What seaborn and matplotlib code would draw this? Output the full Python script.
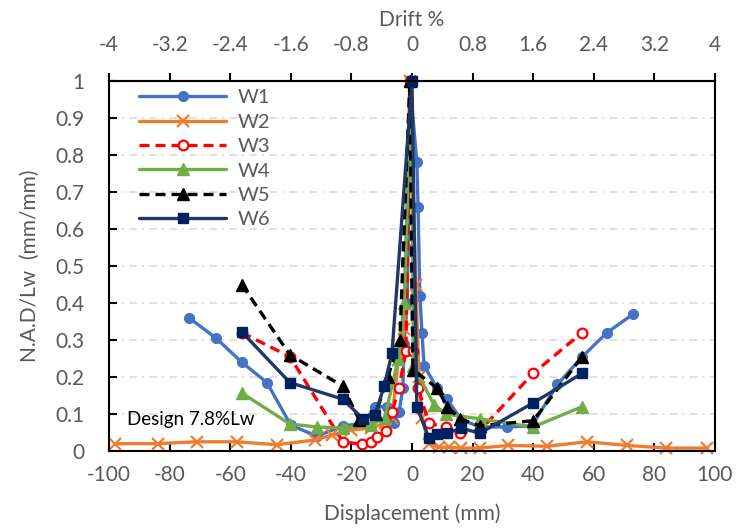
import numpy as np
import pandas as pd
import matplotlib
matplotlib.use("Agg")
import matplotlib.pyplot as plt
from matplotlib.ticker import FuncFormatter
import seaborn as sns

# Normalised average drift (N.A.D/Lw) versus lateral displacement for six walls
w1_disp = [-73.6, -64.7, -56.2, -47.9, -40.0, -31.4, -22.8, -16.2, -12.2, -8.3, -6.0, -4.3, -3.0, -2.6, -1.6, -1.3, -0.7,
           1.6, 2.0, 2.6, 3.3, 4.0, 8.3, 11.6, 16.2, 22.4, 31.4, 39.6, 48.0, 56.2, 64.4, 73.0]
w1_nad = [0.36, 0.305, 0.24, 0.185, 0.07, 0.04, 0.068, 0.075, 0.12, 0.12, 0.075, 0.105, 0.17, 0.29, 0.40, 0.545, 1.0,
          0.78, 0.66, 0.42, 0.32, 0.23, 0.17, 0.14, 0.085, 0.065, 0.065, 0.068, 0.18, 0.255, 0.32, 0.37]

w2_disp = [-98.0, -84.0, -71.0, -57.8, -44.6, -32.0, -26.5, -20.0, -13.5, -9.0, -6.6, -4.5, -2.6, -0.7,
           1.3, 2.3, 3.3, 5.6, 8.9, 12.2, 16.2, 22.4, 31.7, 44.6, 57.8, 71.0, 84.0, 97.4]
w2_nad = [0.02, 0.02, 0.025, 0.025, 0.017, 0.03, 0.043, 0.057, 0.062, 0.075, 0.09, 0.245, 0.33, 1.0,
          0.45, 0.2, 0.09, 0.02, 0.01, 0.01, 0.008, 0.008, 0.015, 0.013, 0.025, 0.015, 0.008, 0.008]

w3_disp = [-56.2, -40.3, -22.8, -16.5, -13.5, -11.5, -8.6, -6.6, -4.3, -2.0, -0.7,
           0.3, 2.0, 5.6, 11.2, 15.8, 22.4, 40.0, 56.2]
w3_nad = [0.32, 0.255, 0.025, 0.018, 0.025, 0.038, 0.055, 0.105, 0.17, 0.27, 1.0,
          0.27, 0.17, 0.075, 0.065, 0.05, 0.055, 0.21, 0.32]

w4_disp = [-56.2, -40.3, -31.4, -22.8, -13.5, -9.0, -4.5, -2.6, -0.3,
           0.5, 7.3, 11.2, 22.4, 40.0, 56.2]
w4_nad = [0.157, 0.073, 0.065, 0.062, 0.07, 0.09, 0.25, 0.4, 1.0,
          0.23, 0.125, 0.1, 0.087, 0.065, 0.12]

w5_disp = [-56.2, -40.3, -22.8, -17.5, -12.0, -8.0, -4.0, -0.7,
           0.3, 8.3, 11.6, 15.8, 22.4, 40.0, 56.2]
w5_nad = [0.45, 0.26, 0.175, 0.085, 0.1, 0.2, 0.3, 1.0,
          0.22, 0.17, 0.12, 0.087, 0.068, 0.082, 0.255]

w6_disp = [-56.2, -40.3, -22.8, -16.2, -12.2, -9.2, -6.6, 0.0,
           1.6, 5.6, 8.3, 11.6, 16.2, 22.4, 40.0, 56.2]
w6_nad = [0.322, 0.185, 0.14, 0.087, 0.098, 0.175, 0.265, 1.0,
          0.12, 0.035, 0.047, 0.048, 0.062, 0.048, 0.13, 0.21]

wall_names = ["W1", "W2", "W3", "W4", "W5", "W6"]
x_ticks = list(range(-100, 101, 20))
drift_ticks = [-4, -3.2, -2.4, -1.6, -0.8, 0, 0.8, 1.6, 2.4, 3.2, 4]
y_ticks = [0, 0.1, 0.2, 0.3, 0.4, 0.5, 0.6, 0.7, 0.8, 0.9, 1]
drift_per_mm = 1 / 25.0  # drift % per mm of displacement
design_note = "Design 7.8%Lw"

frames = []
for name, d, v in zip(wall_names,
                      [w1_disp, w2_disp, w3_disp, w4_disp, w5_disp, w6_disp],
                      [w1_nad, w2_nad, w3_nad, w4_nad, w5_nad, w6_nad]):
    frames.append(pd.DataFrame({"wall": name, "disp": d, "nad": v}))
df = pd.concat(frames, ignore_index=True)

sns.set_theme(style="white")
plt.rcParams["font.family"] = ["Lato", "DejaVu Sans"]
text_grey = "#595959"

styles = {
    "W1": dict(color="#4472C4", marker="o", markersize=7, mfc="#4472C4", mec="#4472C4", ls="-"),
    "W2": dict(color="#ED7D31", marker="x", markersize=8, mfc="#ED7D31", mec="#ED7D31", ls="-", mew=1.6),
    "W3": dict(color="#FF0000", marker="o", markersize=7, mfc="white", mec="#FF0000", ls=(0, (3, 1.8)), mew=1.6),
    "W4": dict(color="#70AD47", marker="^", markersize=8, mfc="#70AD47", mec="#70AD47", ls="-"),
    "W5": dict(color="#000000", marker="^", markersize=8, mfc="#000000", mec="#000000", ls=(0, (3, 1.8))),
    "W6": dict(color="#1F3864", marker="s", markersize=7, mfc="#002060", mec="#002060", ls="-"),
}

fig = plt.figure(figsize=(7.37, 5.29), dpi=100)
ax = fig.add_axes([0.148, 0.1474, 0.822, 0.6995])

for name in wall_names:
    st = styles[name]
    sub = df[df["wall"] == name]
    sns.lineplot(data=sub, x="disp", y="nad", sort=False, estimator=None, ax=ax,
                 color=st["color"], linestyle=st["ls"], linewidth=2.4,
                 marker=st["marker"], markersize=st["markersize"],
                 markerfacecolor=st["mfc"], markeredgecolor=st["mec"],
                 markeredgewidth=st.get("mew", 1.0), label=name, clip_on=False)

ax.set_xlim(-100, 100)
ax.set_ylim(0, 1)
ax.set_xticks(x_ticks)
ax.set_yticks(y_ticks)
ax.yaxis.set_major_formatter(FuncFormatter(lambda v, p: f"{v:g}"))
ax.xaxis.set_major_formatter(FuncFormatter(lambda v, p: f"{v:g}"))

# horizontal long-dash-dot grid
for yv in y_ticks[1:-1]:
    ax.axhline(yv, color="#D9D9D9", lw=1.1, ls=(0, (5.2, 3.3, 1.3, 3.3)), zorder=0)

for sp in ax.spines.values():
    sp.set_visible(True)
    sp.set_color("black")
    sp.set_linewidth(1.5)

ax.tick_params(axis="x", direction="in", length=6, width=1.5, color="black",
               labelsize=15, labelcolor=text_grey, pad=10, bottom=True, top=False)
ax.tick_params(axis="y", direction="in", length=6, width=1.5, color="black",
               labelsize=15, labelcolor=text_grey, pad=18, left=True)

ax.set_xlabel("Displacement (mm)", fontsize=15, color=text_grey, labelpad=13)
ax.set_ylabel("N.A.D/Lw  (mm/mm)", fontsize=15, color=text_grey, labelpad=11)

secax = ax.secondary_xaxis("top", functions=(lambda d: d * drift_per_mm, lambda p: p / drift_per_mm))
secax.set_xticks(drift_ticks)
secax.xaxis.set_major_formatter(FuncFormatter(lambda v, p: f"{round(v, 1):g}"))
secax.tick_params(axis="x", direction="out", length=6, width=1.5, color="black",
                  labelsize=15, labelcolor=text_grey, pad=13)
secax.spines["top"].set_linewidth(1.5)
secax.set_xlabel("Drift %", fontsize=15, color=text_grey, labelpad=6)

ax.text(-94, 0.085, design_note, fontsize=13.5, color="black", ha="left", va="center")

leg = ax.legend(loc="upper left", bbox_to_anchor=(0.03, 1.01), frameon=False, fontsize=14.5,
                handlelength=4.3, handletextpad=0.6, labelspacing=0.36, borderaxespad=0.2)
for t in leg.get_texts():
    t.set_color(text_grey)

fig.savefig("out.png", dpi=100)
